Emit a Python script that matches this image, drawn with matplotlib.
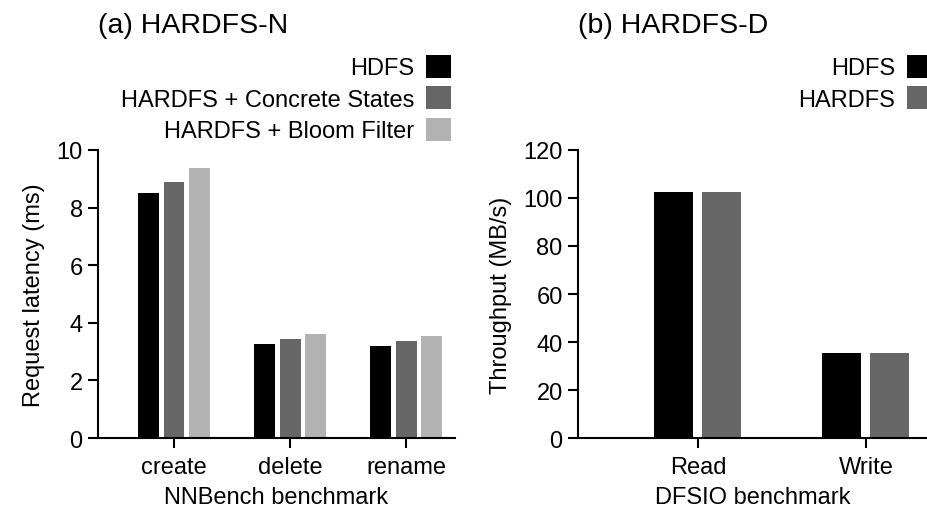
import numpy as np
import matplotlib
matplotlib.use('Agg')
import matplotlib.pyplot as plt

plt.rcParams['font.family'] = ['Liberation Sans', 'DejaVu Sans']
plt.rcParams['font.size'] = 17

# (a) HARDFS-N: NNBench request latency (ms)
nn_ops = ['create', 'delete', 'rename']
nn_series = ['HDFS', 'HARDFS + Concrete States', 'HARDFS + Bloom Filter']
nn_hdfs = [8.5, 3.26, 3.19]
nn_concrete = [8.89, 3.44, 3.37]
nn_bloom = [9.36, 3.61, 3.54]

# (b) HARDFS-D: DFSIO throughput (MB/s)
io_ops = ['Read', 'Write']
io_series = ['HDFS', 'HARDFS']
io_hdfs = [102.5, 35.4]
io_hardfs = [102.5, 35.4]

colors = ['#000000', '#666666', '#b2b2b2']

fig = plt.figure(figsize=(9.28, 5.10), dpi=100)
ax1 = fig.add_axes([98 / 928, 1 - 439 / 510, (455 - 98) / 928, (439 - 151) / 510])
ax2 = fig.add_axes([578 / 928, 1 - 439 / 510, (928 - 578) / 928, (439 - 151) / 510])


def style(ax):
    for s in ['top', 'right']:
        ax.spines[s].set_visible(False)
    for s in ['left', 'bottom']:
        ax.spines[s].set_linewidth(1.5)
    ax.tick_params(axis='both', direction='out', length=7, width=1.5, pad=4, labelsize=17)
    ax.tick_params(axis='x', pad=6)


# left panel
x = np.arange(len(nn_ops))
w = 0.18
off = 0.22
for i, vals in enumerate([nn_hdfs, nn_concrete, nn_bloom]):
    ax1.bar(x + (i - 1) * off, vals, w, color=colors[i], label=nn_series[i])
ax1.set_xlim(-0.655, 2.42)
ax1.set_ylim(0, 10)
ax1.set_yticks([0, 2, 4, 6, 8, 10])
ax1.set_xticks(x)
ax1.set_xticklabels(nn_ops)
ax1.set_xlabel('NNBench benchmark', labelpad=6)
ax1.set_ylabel('Request latency (ms)', labelpad=8)
style(ax1)

# right panel
x2 = np.arange(len(io_ops))
w2 = 0.232
off2 = 0.143
for i, vals in enumerate([io_hdfs, io_hardfs]):
    ax2.bar(x2 + (i - 0.5) * 2 * off2, vals, w2, color=colors[i], label=io_series[i])
ax2.set_xlim(-0.714, 1.37)
ax2.set_ylim(0, 120)
ax2.set_yticks([0, 20, 40, 60, 80, 100, 120])
ax2.set_xticks(x2)
ax2.set_xticklabels(io_ops)
ax2.set_xlabel('DFSIO benchmark', labelpad=6)
ax2.set_ylabel('Throughput (MB/s)', labelpad=8)
style(ax2)

fig.text(98 / 928, 1 - 33 / 510, '(a) HARDFS-N', fontsize=20.5, ha='left', va='baseline')
fig.text(578 / 928, 1 - 33 / 510, '(b) HARDFS-D', fontsize=20.5, ha='left', va='baseline')

leg_kw = dict(frameon=False, markerfirst=False, loc='upper right', borderpad=0,
              borderaxespad=0, handlelength=1.05, handleheight=1.1,
              handletextpad=0.5, labelspacing=0.3, fontsize=17)
ax1.legend(bbox_to_anchor=(451 / 928, 1 - 56 / 510), bbox_transform=fig.transFigure, **leg_kw)
ax2.legend(bbox_to_anchor=(932 / 928, 1 - 56 / 510), bbox_transform=fig.transFigure, **leg_kw)

fig.savefig('out.png', dpi=100)
